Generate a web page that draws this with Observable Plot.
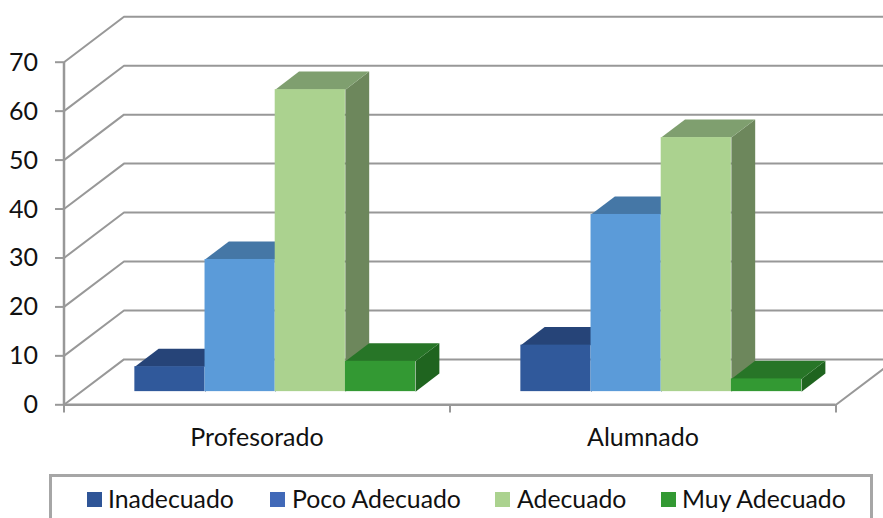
<!DOCTYPE html>
<html lang="es">
<head>
<meta charset="utf-8">
<script src="https://cdn.jsdelivr.net/npm/d3@7"></script>
<script src="https://cdn.jsdelivr.net/npm/@observablehq/plot@0.6"></script>
<style>
  html, body { margin: 0; padding: 0; background: #fff; width: 883px; height: 518px; overflow: hidden; }
  #chart { position: absolute; left: 0; top: 0; }
  #legend { position: absolute; left: 49px; top: 474px; width: 818px; height: 60px; border: 3px solid #a6a6a6; box-sizing: content-box; font-family: Lato, "Open Sans", sans-serif; font-size: 24.8px; color: #111; }
  .item { position: absolute; top: 0; white-space: nowrap; }
  .sw { position: absolute; width: 15px; height: 15px; top: 15px; }
  .lb { position: absolute; top: 7px; line-height: 29px; }
</style>
</head>
<body>
<div id="chart"></div>
<div id="legend"></div>
<script>
const categories = ["Profesorado", "Alumnado"];
const seriesNames = ["Inadecuado", "Poco Adecuado", "Adecuado", "Muy Adecuado"];
const inadecuado = [5.1, 9.5];
const pocoAdecuado = [27, 36.2];
const adecuado = [61.7, 51.9];
const muyAdecuado = [6.2, 2.6];
const seriesValues = [inadecuado, pocoAdecuado, adecuado, muyAdecuado];
const yTicks = [0, 10, 20, 30, 40, 50, 60, 70];

const frontColors = ["#30599b", "#5b9bd9", "#abd28f", "#339933"];
const topColors = ["#264478", "#4577a6", "#7f9f6f", "#277527"];
const sideColors = ["#1f3a68", "#3b6791", "#6d875c", "#1f641f"];
const swatchColors = ["#2f5597", "#4169b8", "#abd28f", "#339933"];
const gridColor = "#989898";

// oblique projection of the floor depth, in data units
const depthX = 0.1554, depthY = 9.28;
const px = (x, z) => x + z * depthX;
const py = (v, z) => v + z * depthY;
const barFrontZ = 0.29, barBackZ = 0.687;
const gap = 0.1385, barWidth = 0.1818;
const rightEnd = 2.123;

function poly(points, fill) {
  return Plot.line(points, {x: "x", y: "y", fill, stroke: "none"});
}

const barMarks = categories.flatMap((c, i) =>
  seriesValues.flatMap((vals, s) => {
    const v = vals[i];
    const a = i + gap + s * barWidth, b = a + barWidth;
    const f = barFrontZ, k = barBackZ;
    return [
      poly([
        {x: px(b, f), y: py(0, f)}, {x: px(b, k), y: py(0, k)},
        {x: px(b, k), y: py(v, k)}, {x: px(b, f), y: py(v, f)}
      ], sideColors[s]),
      poly([
        {x: px(a, f), y: py(v, f)}, {x: px(b, f), y: py(v, f)},
        {x: px(b, k), y: py(v, k)}, {x: px(a, k), y: py(v, k)}
      ], topColors[s]),
      Plot.rect([0], {
        x1: () => px(a, f), x2: () => px(b, f),
        y1: () => py(0, f), y2: () => py(v, f),
        fill: frontColors[s]
      })
    ];
  })
);

const gridMarks = yTicks.map(t =>
  Plot.line([
    {x: 0, y: t},
    {x: depthX, y: t + depthY},
    {x: rightEnd, y: t + depthY}
  ], {x: "x", y: "y", stroke: gridColor, strokeWidth: 2})
);

const chart = Plot.plot({
  width: 883,
  height: 470,
  marginLeft: 63.5,
  marginRight: 47.5,
  marginTop: 0,
  marginBottom: 65.7,
  style: {background: "transparent", overflow: "hidden"},
  x: {domain: [0, 2], range: [63.5, 835.5]},
  y: {domain: [0, 70], range: [404.3, 61.7]},
  marks: [
    ...gridMarks,
    Plot.line([
      {x: 2, y: 0},
      {x: rightEnd, y: (rightEnd - 2) / depthX * depthY}
    ], {x: "x", y: "y", stroke: gridColor, strokeWidth: 2}),
    Plot.ruleX([0], {y1: 0, y2: 70, stroke: gridColor, strokeWidth: 2.5}),
    Plot.ruleY([0], {x1: 0, x2: 2, stroke: gridColor, strokeWidth: 2.5}),
    Plot.ruleY(yTicks, {x1: -0.022, x2: 0, stroke: gridColor, strokeWidth: 2}),
    Plot.ruleX([0, 1, 2], {y1: 0, y2: -1.7, stroke: gridColor, strokeWidth: 2}),
    ...barMarks,
    Plot.axisY(yTicks, {
      label: null, tickSize: 0, tickPadding: 26, fontSize: 25, dy: 0.5,
      color: "#111", fontFamily: "Lato, 'Open Sans', sans-serif"
    }),
    Plot.axisX([0.5, 1.5], {
      label: null, tickSize: 0, tickPadding: 23.5, fontSize: 25,
      tickFormat: d => categories[Math.floor(d)],
      color: "#111", fontFamily: "Lato, 'Open Sans', sans-serif"
    })
  ]
});
document.getElementById("chart").appendChild(chart);

const legend = document.getElementById("legend");
const swatchX = [35, 218, 443, 609];
const labelX = [56, 240, 465, 630];
seriesNames.forEach((name, i) => {
  const item = document.createElement("div");
  item.className = "item";
  item.style.left = "0";
  const sw = document.createElement("div");
  sw.className = "sw";
  sw.style.left = swatchX[i] + "px";
  sw.style.background = swatchColors[i];
  const lb = document.createElement("div");
  lb.className = "lb";
  lb.style.left = labelX[i] + "px";
  lb.textContent = name;
  item.append(sw, lb);
  legend.appendChild(item);
});
</script>
</body>
</html>
